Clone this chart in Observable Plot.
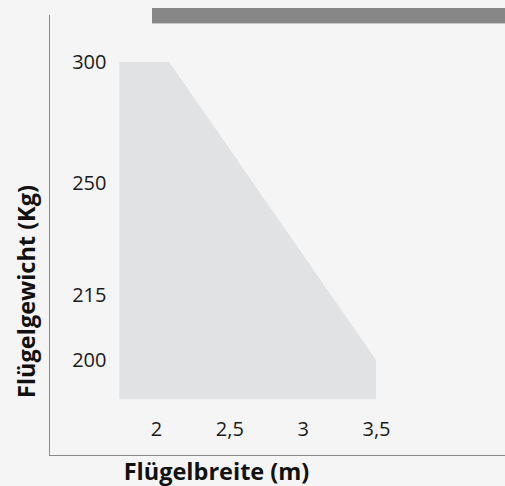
<!DOCTYPE html>
<html>
<head>
<meta charset="utf-8">
<script src="https://cdn.jsdelivr.net/npm/d3@7"></script>
<script src="https://cdn.jsdelivr.net/npm/@observablehq/plot@0.6"></script>
<style>
  html, body { margin: 0; padding: 0; background: #f5f5f5; }
  #wrap { position: relative; width: 505px; height: 486px; overflow: hidden; }
  #bar { position: absolute; left: 152px; top: 8px; width: 353px; height: 15px; background: #878787; border-bottom: 1px solid #c8c8c8; }
  #chart { position: absolute; left: 0; top: 0; }
</style>
</head>
<body>
<div id="wrap"><div id="chart"></div><div id="bar"></div></div>
<script>
// Data
const widths = [1.75, 2.09, 3.5];      // Flügelbreite (m)
const weights = [300, 300, 200];       // max Flügelgewicht (Kg)
const baseWeight = 191;                // lower edge of the shaded region
const xTicks = [2, 2.5, 3, 3.5];
const yTicks = [300, 250, 215, 200];
const xTitle = "Flügelbreite (m)";
const yTitle = "Flügelgewicht (Kg)";

const rows = widths.map((w, i) => ({w, kg: weights[i]}));
const font = "'Open Sans', sans-serif";

// The reference's weight axis is not linear: its ticks are spaced unevenly.
// A piecewise-linear transform reproduces that spacing inside Plot's y scale.
const warp = d3.scaleLinear().domain([200, 215, 250, 300]).range([0, 65, 177, 298]);

const chart = Plot.plot({
  width: 505,
  height: 486,
  marginTop: 15,
  marginBottom: 31,
  marginLeft: 49,
  marginRight: 0,
  style: {background: "transparent", fontFamily: font, fontSize: "20px", color: "#1a1a1a"},
  x: {domain: [2, 3.5], range: [156, 376]},
  y: {transform: warp, domain: [0, 298], range: [360, 62]},
  marks: [
    Plot.areaY(rows, {x: "w", y1: baseWeight, y2: "kg", fill: "#e1e2e3"}),
    Plot.frame({anchor: "left", stroke: "#8a8a8a", strokeOpacity: 1}),
    Plot.frame({anchor: "bottom", stroke: "#8a8a8a", strokeOpacity: 1}),
    Plot.axisX({ticks: xTicks, tickSize: 0, tickPadding: -34, label: null,
      tickFormat: d => String(d).replace(".", ","), fontSize: 20, fill: "#1a1a1a"}),
    Plot.axisY({ticks: yTicks.map(warp), tickSize: 0, tickPadding: -57, label: null,
      tickFormat: d => String(Math.round(warp.invert(d))), fontSize: 20, fill: "#1a1a1a"}),
    Plot.text([xTitle], {frameAnchor: "bottom", dx: -61, dy: 17, text: d => d,
      fontWeight: "bold", fontSize: 23.5, fill: "#111", lineAnchor: "middle"}),
    Plot.text([yTitle], {frameAnchor: "left", dx: -22, dy: 56, text: d => d, rotate: -90,
      textAnchor: "middle", fontWeight: "bold", fontSize: 23.5, fill: "#111", lineAnchor: "middle"})
  ]
});
document.getElementById("chart").appendChild(chart);
</script>
</body>
</html>
